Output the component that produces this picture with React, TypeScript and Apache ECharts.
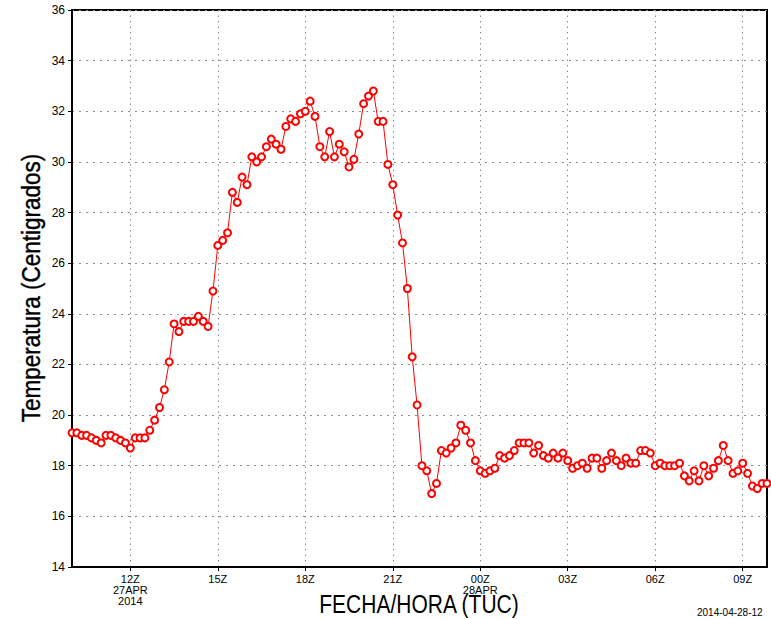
import React, { useEffect, useRef } from "react";
import * as echarts from "echarts";

// Temperature readings every 10 minutes, 27APR2014 10:00Z -> 28APR2014 09:50Z
const temps10to12 = [19.3, 19.3, 19.2, 19.2, 19.1, 19.0, 18.9, 19.2, 19.2, 19.1, 19.0, 18.9, 18.7];
const temps12to16 = [19.1, 19.1, 19.1, 19.4, 19.8, 20.3, 21.0, 22.1, 23.6, 23.3, 23.7, 23.7, 23.7, 23.9, 23.7, 23.5, 24.9, 26.7, 26.9, 27.2, 28.8, 28.4, 29.4, 29.1, 30.2, 30.0, 30.2];
const temps16to21 = [30.6, 30.9, 30.7, 30.5, 31.4, 31.7, 31.6, 31.9, 32.0, 32.4, 31.8, 30.6, 30.2, 31.2, 30.2, 30.7, 30.4, 29.8, 30.1, 31.1, 32.3, 32.6, 32.8, 31.6, 31.6, 29.9, 29.1];
const temps21to03 = [27.9, 26.8, 25.0, 22.3, 20.4, 18.0, 17.8, 16.9, 17.3, 18.6, 18.5, 18.7, 18.9, 19.6, 19.4, 18.9, 18.2, 17.8, 17.7, 17.8, 17.9, 18.4, 18.3, 18.4, 18.6, 18.9, 18.9, 18.9, 18.5, 18.8, 18.4, 18.3, 18.5, 18.3, 18.5, 18.2, 17.9, 18.0];
const temps03to10 = [18.1, 17.9, 18.3, 18.3, 17.9, 18.2, 18.5, 18.2, 18.0, 18.3, 18.1, 18.1, 18.6, 18.6, 18.5, 18.0, 18.1, 18.0, 18.0, 18.0, 18.1, 17.6, 17.4, 17.8, 17.4, 18.0, 17.6, 17.9, 18.2, 18.8, 18.2, 17.7, 17.8, 18.1, 17.7, 17.2, 17.1, 17.3, 17.3];

const temperatures = [...temps10to12, ...temps12to16, ...temps16to21, ...temps21to03, ...temps03to10];

// time categories (10-minute steps)
const startHour = 10;
const categories: string[] = temperatures.map((_, i) => {
  const totalMin = startHour * 60 + i * 10;
  const day = totalMin >= 24 * 60 ? "28APR" : "27APR";
  const h = Math.floor(totalMin / 60) % 24;
  const m = totalMin % 60;
  return `${day} ${String(h).padStart(2, "0")}:${String(m).padStart(2, "0")}`;
});

const yTicks = [14, 16, 18, 20, 22, 24, 26, 28, 30, 32, 34, 36];
const xTickHours = ["12", "15", "18", "21", "00", "03", "06", "09"];
const dateLabels: Record<string, string> = {
  "27APR 12:00": "27APR\n2014",
  "28APR 00:00": "28APR",
};

const isTick = (idx: number) => {
  const c = categories[idx];
  if (!c) return false;
  const hm = c.split(" ")[1];
  const [h, m] = hm.split(":");
  return m === "00" && xTickHours.includes(h);
};

export default function App() {
  const ref = useRef<HTMLDivElement>(null);
  useEffect(() => {
    if (!ref.current) return;
    const chart = echarts.init(ref.current, null, { renderer: "svg" });
    const gridColor = "#8c8c8c";
    chart.setOption({
      animation: false,
      backgroundColor: "#ffffff",
      textStyle: { fontFamily: "Liberation Sans" },
      grid: {
        left: 72,
        right: 4,
        top: 10,
        bottom: 52,
        show: true,
        borderColor: "#000",
        borderWidth: 2,
        backgroundColor: "transparent",
      },
      xAxis: {
        type: "category",
        data: categories,
        boundaryGap: false,
        axisLine: { show: true, lineStyle: { color: "#000", width: 2 } },
        axisTick: {
          show: true,
          interval: (idx: number) => isTick(idx),
          length: 4,
          lineStyle: { color: "#000", width: 1 },
        },
        axisLabel: {
          interval: (idx: number) => isTick(idx),
          margin: 6,
          fontSize: 11,
          lineHeight: 11,
          color: "#000",
          fontFamily: "Liberation Sans",
          formatter: (val: string) => {
            const h = val.split(" ")[1].split(":")[0];
            const extra = dateLabels[val];
            return extra ? `${h}Z\n${extra}` : `${h}Z`;
          },
        },
        splitLine: {
          show: true,
          interval: (idx: number) => isTick(idx),
          lineStyle: { color: gridColor, width: 1, type: [1.5, 4] },
        },
      },
      yAxis: {
        type: "value",
        min: yTicks[0],
        max: yTicks[yTicks.length - 1],
        interval: 2,
        axisLine: { show: true, lineStyle: { color: "#000", width: 2 } },
        axisTick: { show: true, length: 4, lineStyle: { color: "#000", width: 1 } },
        axisLabel: { margin: 7, fontSize: 12, color: "#000", fontFamily: "Liberation Sans" },
        splitLine: { show: true, lineStyle: { color: gridColor, width: 1, type: [2, 5] } },
      },
      series: [
        {
          type: "line",
          data: temperatures,
          symbol: "emptyCircle",
          symbolSize: 7,
          showAllSymbol: true,
          lineStyle: { color: "#ff0000", width: 1 },
          itemStyle: { color: "#ff0000", borderColor: "#ff0000", borderWidth: 0.8 },
          z: 5,
        },
      ],
      graphic: [
        {
          type: "text",
          x: 419,
          y: 604,
          scaleX: 0.84,
          style: {
            text: "FECHA/HORA (TUC)",
            fontSize: 25,
            fontFamily: "Liberation Sans",
            fill: "#000",
            align: "center",
            verticalAlign: "middle",
          },
        },
        {
          type: "text",
          x: 31,
          y: 288,
          rotation: Math.PI / 2,
          scaleX: 0.9,
          style: {
            text: "Temperatura (Centigrados)",
            fontSize: 25,
            fontFamily: "Liberation Sans",
            fill: "#000",
            stroke: "#000",
            lineWidth: 0.4,
            align: "center",
            verticalAlign: "middle",
          },
        },
        {
          type: "text",
          x: 697,
          y: 607,
          style: {
            text: "2014-04-28-12",
            fontSize: 10,
            fontFamily: "Liberation Sans",
            fill: "#000",
            align: "left",
            verticalAlign: "top",
          },
        },
      ],
    });
    return () => chart.dispose();
  }, []);
  return (
    <div
      ref={ref}
      style={{ position: "fixed", left: 0, top: 0, width: 771, height: 619, background: "#fff" }}
    />
  );
}
